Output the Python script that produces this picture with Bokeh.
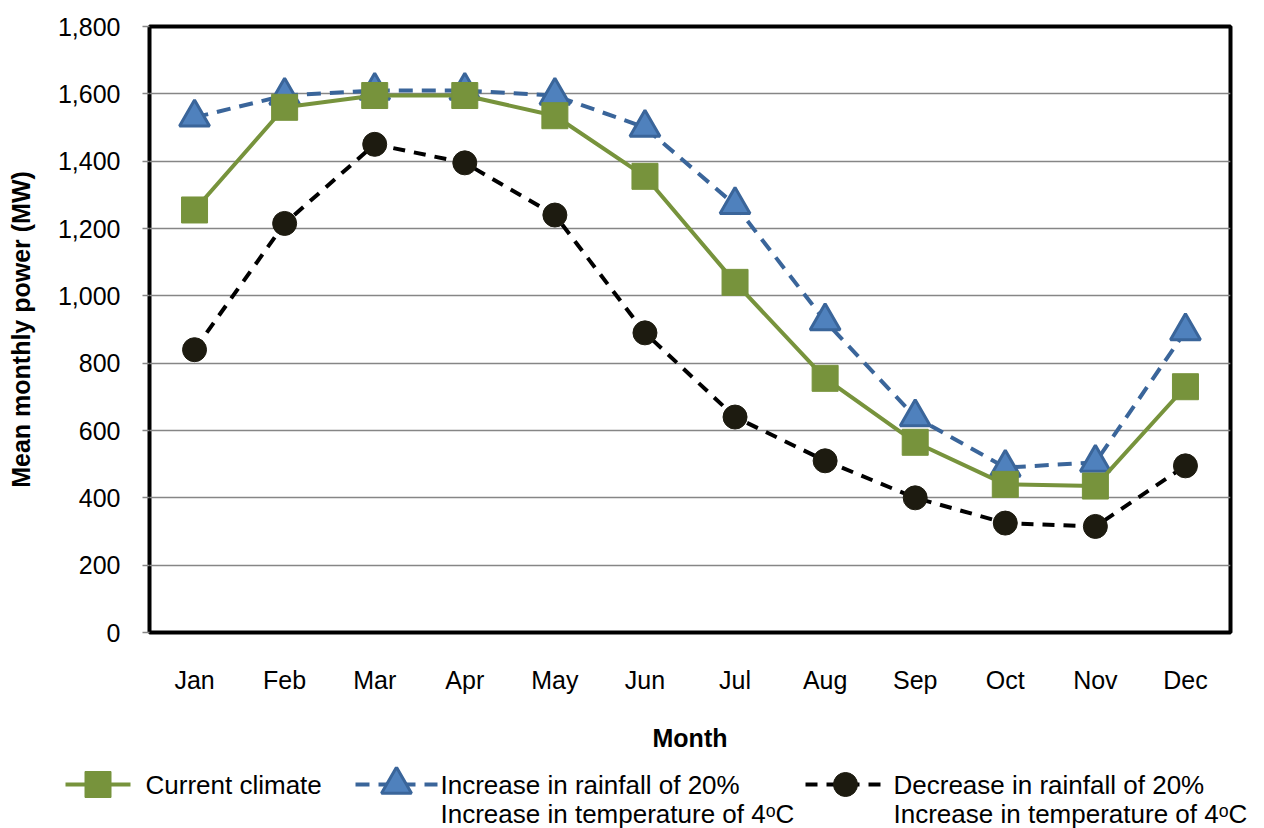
from bokeh.plotting import figure
from bokeh.layouts import column
from bokeh.models import NumeralTickFormatter, FixedTicker, Range1d
from bokeh.core.properties import value
from bokeh.embed import file_html
from bokeh.resources import INLINE

months = ["Jan", "Feb", "Mar", "Apr", "May", "Jun", "Jul", "Aug", "Sep", "Oct", "Nov", "Dec"]
current_climate = [1255, 1560, 1595, 1595, 1535, 1355, 1040, 755, 565, 440, 435, 730]
rain_up_temp_up = [1530, 1595, 1610, 1610, 1595, 1500, 1270, 925, 640, 490, 505, 895]
rain_down_temp_up = [840, 1215, 1450, 1395, 1240, 890, 640, 510, 400, 325, 315, 495]
y_ticks = [0, 200, 400, 600, 800, 1000, 1200, 1400, 1600, 1800]

series_labels = [
    ["Current climate"],
    ["Increase in rainfall of 20%", "Increase in temperature of 4\u1d52C"],
    ["Decrease in rainfall of 20%", "Increase in temperature of 4\u1d52C"],
]

FONT = "Liberation Sans"
GREEN = "#77933C"
BLUE_FILL = "#4F81BD"
BLUE_LINE = "#3A659A"
DARK = "#1D1B10"

GREEN_LINE = dict(line_color=GREEN, line_width=4)
GREEN_MARK = dict(marker="square", size=26, fill_color=GREEN, line_color=GREEN, line_width=1)
BLUE_LINE_STYLE = dict(line_color=BLUE_LINE, line_width=4, line_dash="14 9")
BLUE_MARK = dict(marker="triangle", size=30, fill_color=BLUE_FILL, line_color=BLUE_LINE, line_width=3)
DARK_LINE = dict(line_color="black", line_width=4, line_dash="12 9")
DARK_MARK = dict(marker="circle", size=24, fill_color=DARK, line_color=DARK, line_width=1)

p = figure(
    x_range=months, y_range=Range1d(0, 1800),
    width=1264, height=766,
    output_backend="svg", toolbar_location=None,
    min_border_left=149, min_border_right=34, min_border_top=26, min_border_bottom=134,
)
p.frame_align = False
p.background_fill_color = "white"
p.border_fill_color = "white"
p.outline_line_color = "black"
p.outline_line_width = 4

# axes
p.yaxis.ticker = FixedTicker(ticks=y_ticks)
p.yaxis.formatter = NumeralTickFormatter(format="0,0")
p.yaxis.axis_line_color = None
p.yaxis.major_tick_line_color = "#868686"
p.yaxis.major_tick_line_width = 1.5
p.yaxis.major_tick_out = 7
p.yaxis.major_tick_in = 0
p.yaxis.minor_tick_line_color = None
p.yaxis.major_label_standoff = 22
p.yaxis.axis_label = "Mean monthly power (MW)"
p.yaxis.axis_label_standoff = 20

p.xaxis.axis_line_color = None
p.xaxis.major_tick_line_color = None
p.xaxis.major_tick_out = 0
p.xaxis.major_tick_in = 0
p.xaxis.major_label_standoff = 33
p.xaxis.axis_label = "Month"
p.xaxis.axis_label_standoff = 27

for ax in (p.xaxis[0], p.yaxis[0]):
    ax.major_label_text_font = FONT
    ax.major_label_text_font_size = "25px"
    ax.major_label_text_color = "black"
    ax.axis_label_text_font = FONT
    ax.axis_label_text_font_size = "25px"
    ax.axis_label_text_font_style = "bold"
    ax.axis_label_text_color = "black"

p.xgrid.grid_line_color = None
p.ygrid.grid_line_color = "#868686"
p.ygrid.grid_line_width = 1.5

# series: rainfall increase (blue), current climate (green), rainfall decrease (black)
p.line(months, rain_up_temp_up, **BLUE_LINE_STYLE)
p.scatter(months, rain_up_temp_up, **BLUE_MARK)
p.line(months, current_climate, **GREEN_LINE)
p.scatter(months, current_climate, **GREEN_MARK)
p.line(months, rain_down_temp_up, **DARK_LINE)
p.scatter(months, rain_down_temp_up, **DARK_MARK)

# legend strip underneath the chart, laid out in pixel units (y grows downward)
LEG_H = 62
lg = figure(
    width=1264, height=LEG_H, x_range=Range1d(0, 1264), y_range=Range1d(LEG_H, 0),
    output_backend="svg", toolbar_location=None,
    min_border_left=0, min_border_right=0, min_border_top=0, min_border_bottom=0,
)
lg.frame_align = False
lg.axis.visible = False
lg.grid.visible = False
lg.outline_line_color = None
lg.background_fill_color = "white"
lg.border_fill_color = "white"

# (sample start, sample end, text start) for each legend entry
entry_layout = [(65, 130, 145), (355, 437, 440), (805, 885, 893)]
first_row, row_step = 18, 29
styles = [(GREEN_LINE, GREEN_MARK), (BLUE_LINE_STYLE, BLUE_MARK), (DARK_LINE, DARK_MARK)]

for lines, (ls, ms), (x0, x1, tx) in zip(series_labels, styles, entry_layout):
    lg.line([x0, x1], [first_row, first_row], **ls)
    lg.scatter([(x0 + x1) / 2], [first_row], **ms)
    lg.text(
        x=[tx] * len(lines),
        y=[first_row + i * row_step for i in range(len(lines))],
        text=lines,
        text_font=value(FONT), text_font_size="26px", text_color="black",
        text_align="left", text_baseline="middle",
    )

open("out.html", "w").write(file_html(column(p, lg, spacing=0), INLINE))
